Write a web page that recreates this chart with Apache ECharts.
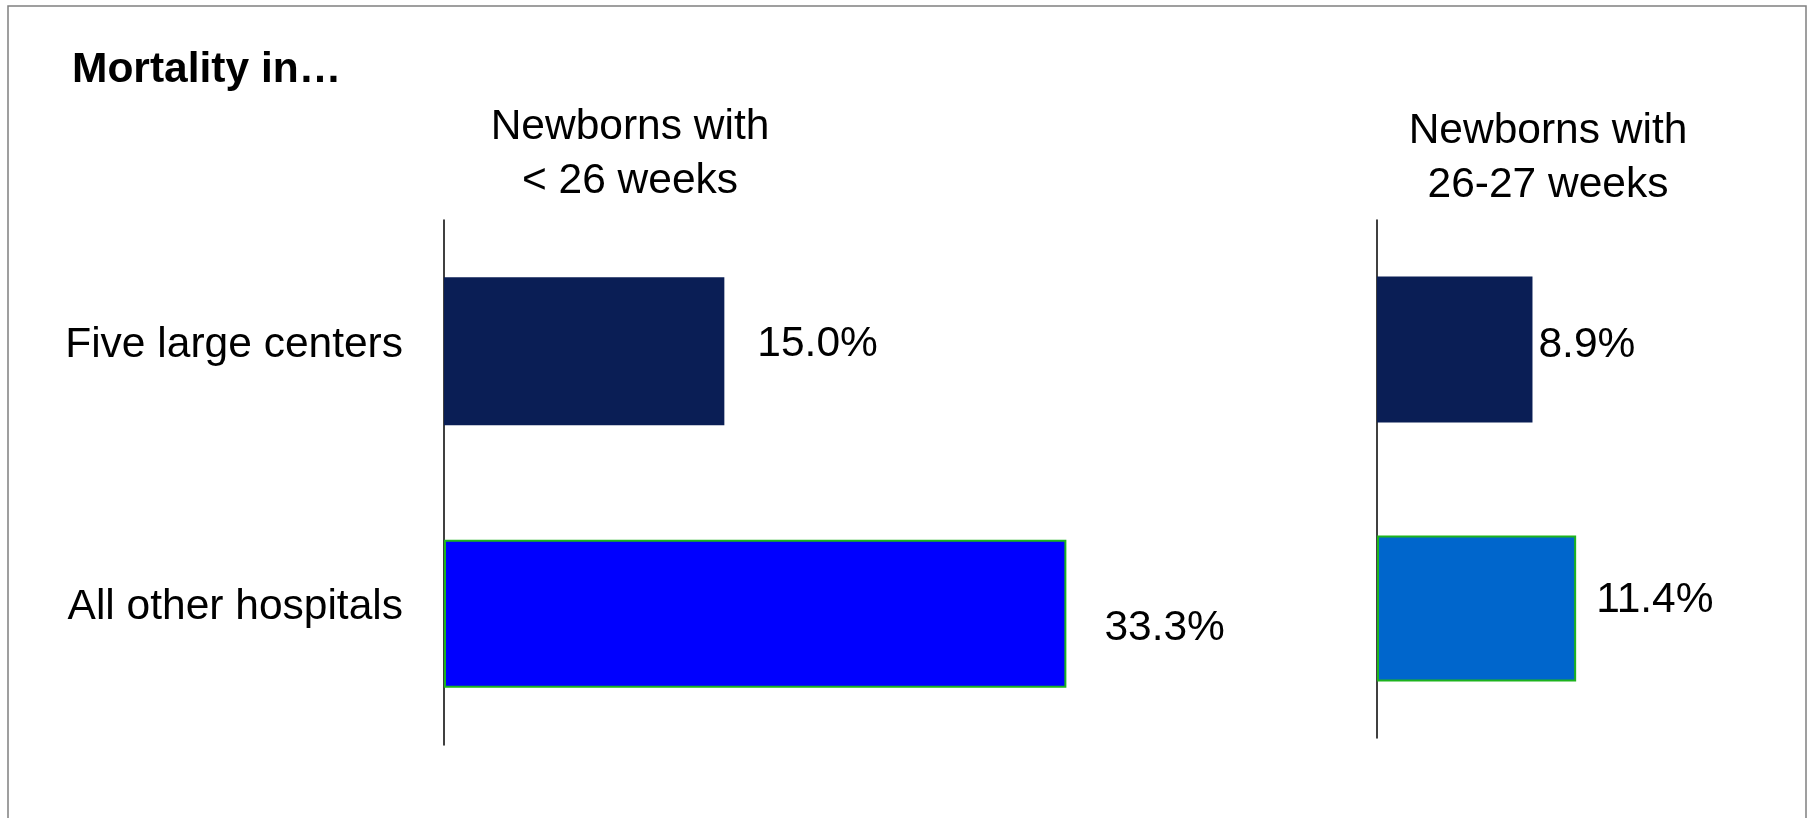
<!DOCTYPE html>
<html>
<head>
<meta charset="utf-8">
<title>Mortality in...</title>
<script src="https://cdn.jsdelivr.net/npm/echarts/dist/echarts.min.js"></script>
<style>
  html, body { margin: 0; padding: 0; background: #fff; }
  #chart { width: 1814px; height: 818px; }
</style>
</head>
<body>
<div id="chart"></div>
<script>
// data
var categories = ['Five large centers', 'All other hospitals'];
var under26Weeks = [15.0, 33.3];
var weeks26to27 = [8.9, 11.4];
var panelTitles = ['Newborns with\n< 26 weeks', 'Newborns with\n26-27 weeks'];

var FONT = '"Liberation Sans", Arial, sans-serif';
var navy = '#0a1e55';
var green = '#1db31d';

// label nudges, the slide places them by hand
var leftLabelOffset = [[33, -7], [38, 15]];
var rightLabelOffset = [[6, -4], [20, -8]];

function buildData (values, colors, offsets) {
  return values.map(function (v, i) {
    return {
      value: v,
      itemStyle: {
        color: colors[i],
        borderColor: i === 1 ? green : colors[i],
        borderWidth: i === 1 ? 2 : 0
      },
      label: { offset: offsets[i] }
    };
  });
}

var valueLabel = {
  show: true,
  position: 'right',
  distance: 0,
  color: '#000',
  fontFamily: FONT,
  fontSize: 42.5,
  formatter: function (p) { return p.value.toFixed(1) + '%'; }
};

var chart = echarts.init(document.getElementById('chart'));
var option = {
  animation: false,
  backgroundColor: '#fff',
  textStyle: { fontFamily: FONT },
  title: [{
    text: 'Mortality in…',
    left: 72,
    top: 49,
    padding: 0,
    textStyle: { fontFamily: FONT, fontSize: 42.5, fontWeight: 'bold', color: '#000' }
  }, {
    text: panelTitles[0],
    left: 630,
    top: 100,
    textAlign: 'center',
    padding: 0,
    textStyle: { fontFamily: FONT, fontSize: 42.5, fontWeight: 'normal', color: '#000', lineHeight: 54, align: 'center' }
  }, {
    text: panelTitles[1],
    left: 1548,
    top: 104,
    textAlign: 'center',
    padding: 0,
    textStyle: { fontFamily: FONT, fontSize: 42.5, fontWeight: 'normal', color: '#000', lineHeight: 54, align: 'center' }
  }],
  graphic: [{
    type: 'rect',
    shape: { x: 8, y: 6, width: 1798, height: 840 },
    style: { fill: null, stroke: '#808080', lineWidth: 1.5 },
    silent: true
  }],
  grid: [
    { left: 444, top: 220, width: 747.6, height: 525 },
    { left: 1377, top: 220, width: 349.4, height: 518 }
  ],
  xAxis: [
    { type: 'value', gridIndex: 0, min: 0, max: 40, show: false },
    { type: 'value', gridIndex: 1, min: 0, max: 20, show: false }
  ],
  yAxis: [{
    type: 'category',
    gridIndex: 0,
    inverse: true,
    data: categories,
    axisLine: { lineStyle: { color: '#000', width: 1.5 } },
    axisTick: { show: false },
    axisLabel: {
      margin: 41,
      color: '#000',
      fontFamily: FONT,
      fontSize: 42.5,
      // labels sit a little above the bar centres
      verticalAlign: 'bottom',
      lineHeight: 12
    }
  }, {
    type: 'category',
    gridIndex: 1,
    inverse: true,
    data: categories,
    axisLine: { lineStyle: { color: '#000', width: 1.5 } },
    axisTick: { show: false },
    axisLabel: { show: false }
  }],
  series: [{
    name: '< 26 weeks',
    type: 'bar',
    xAxisIndex: 0,
    yAxisIndex: 0,
    barWidth: 148,
    label: valueLabel,
    data: buildData(under26Weeks, [navy, '#0000ff'], leftLabelOffset)
  }, {
    name: '26-27 weeks',
    type: 'bar',
    xAxisIndex: 1,
    yAxisIndex: 1,
    barWidth: 146,
    label: valueLabel,
    data: buildData(weeks26to27, [navy, '#0066cc'], rightLabelOffset)
  }]
};
chart.setOption(option);
</script>
</body>
</html>
